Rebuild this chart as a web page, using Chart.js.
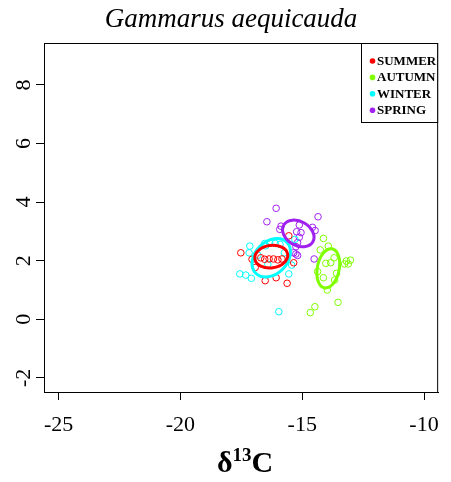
<!DOCTYPE html>
<html>
<head>
<meta charset="utf-8">
<script src="https://cdn.jsdelivr.net/npm/chart.js@4.4.0/dist/chart.umd.min.js"></script>
<style>
html, body { margin: 0; padding: 0; background: #fff; }
</style>
</head>
<body>
<canvas id="isoCanvas" width="451" height="482"></canvas>
<script>
// seasons and colours
const seasons = ['SUMMER', 'AUTUMN', 'WINTER', 'SPRING'];
const seasonColors = ['#FF0000', '#7FFF00', '#00FFFF', '#A020F0'];

// d13C (x) and d15N (y) values
const summerX = [-17.52, -17.06, -16.93, -16.54, -16.36, -16.18, -16.00, -15.83, -15.55, -15.35, -16.52, -16.07, -15.62, -16.70];
const summerY = [2.27, 2.05, 1.77, 2.05, 2.06, 2.06, 2.03, 2.06, 2.85, 1.93, 1.32, 1.42, 1.23, 2.10];

const autumnX = [-14.13, -13.93, -14.26, -13.69, -14.03, -13.83, -13.19, -13.02, -13.11, -13.26, -14.37, -14.13, -13.59, -13.67, -13.97, -13.53, -14.48, -14.67];
const autumnY = [2.76, 2.50, 2.37, 2.10, 1.91, 1.93, 1.99, 2.02, 1.89, 1.89, 1.63, 1.42, 1.57, 1.34, 1.00, 0.58, 0.43, 0.23];

const winterX = [-17.15, -17.18, -17.56, -17.32, -17.09, -16.41, -15.55, -15.43, -15.30, -15.96, -16.54, -16.34, -16.11, -15.91, -15.73, -16.82, -16.50];
const winterY = [2.50, 2.27, 1.55, 1.51, 1.40, 1.88, 1.55, 1.85, 2.73, 0.26, 2.59, 2.61, 2.59, 2.56, 2.27, 2.19, 2.51];

const springX = [-16.07, -16.45, -15.87, -15.92, -14.35, -14.58, -14.47, -15.12, -15.23, -15.05, -15.12, -15.19, -15.26, -15.35, -15.19, -14.51, -15.26];
const springY = [3.79, 3.33, 3.18, 3.07, 3.50, 3.14, 3.03, 3.22, 2.99, 2.96, 2.80, 2.62, 2.48, 2.27, 2.18, 2.06, 2.23];

// standard ellipses: centre, semi axes (data units), tilt (degrees)
const ellipseCX = [-16.27, -13.93, -16.27, -15.16];
const ellipseCY = [2.14, 1.74, 2.10, 2.93];
const ellipseRX = [0.68, 0.45, 0.90, 0.69];
const ellipseRY = [0.38, 0.68, 0.55, 0.41];
const ellipseTilt = [-8, 11, -45, 30];

const xTicks = [-25, -20, -15, -10];
const yTicks = [-2, 0, 2, 4, 6, 8];

const seriesX = [summerX, autumnX, winterX, springX];
const seriesY = [summerY, autumnY, winterY, springY];

function toPoints(xs, ys) {
    let pts = [];
    for (let i = 0; i < xs.length; i++) {
        pts.push({ x: xs[i], y: ys[i] });
    }
    return pts;
}

let datasets = [];
for (let s = 0; s < seasons.length; s++) {
    datasets.push({
        label: seasons[s],
        data: toPoints(seriesX[s], seriesY[s]),
        borderColor: seasonColors[s],
        backgroundColor: 'rgba(0,0,0,0)',
        pointRadius: 3.3,
        borderWidth: 1,
        order: s
    });
}

const serif = "'Liberation Serif', 'Times New Roman', serif";

const extrasPlugin = {
    id: 'extras',
    afterDatasetsDraw(chart) {
        const ctx = chart.ctx;
        const xs = chart.scales.x;
        const ys = chart.scales.y;
        const area = chart.chartArea;
        const pxPerX = Math.abs(xs.getPixelForValue(1) - xs.getPixelForValue(0));
        const pxPerY = Math.abs(ys.getPixelForValue(1) - ys.getPixelForValue(0));

        // ellipses (winter first so summer sits over it)
        const drawOrder = [2, 0, 1, 3];
        ctx.save();
        ctx.lineWidth = 3;
        for (let k of drawOrder) {
            ctx.beginPath();
            ctx.strokeStyle = seasonColors[k];
            ctx.ellipse(xs.getPixelForValue(ellipseCX[k]), ys.getPixelForValue(ellipseCY[k]),
                ellipseRX[k] * pxPerX, ellipseRY[k] * pxPerY, ellipseTilt[k] * Math.PI / 180, 0, 2 * Math.PI);
            ctx.stroke();
        }
        ctx.restore();

        // box
        ctx.save();
        ctx.strokeStyle = '#000';
        ctx.lineWidth = 1;
        ctx.strokeRect(area.left + 0.5, area.top + 0.5, area.right - area.left - 1, area.bottom - area.top);

        // legend
        const lx = 361.5, ly = area.top + 0.5;
        ctx.fillStyle = '#fff';
        ctx.fillRect(lx, ly, area.right - 0.5 - lx, 79);
        ctx.strokeRect(lx, ly, area.right - 0.5 - lx, 79);
        ctx.font = 'bold 13px ' + serif;
        ctx.textBaseline = 'middle';
        ctx.textAlign = 'left';
        for (let s = 0; s < seasons.length; s++) {
            let rowY = 61 + s * 16.4;
            ctx.beginPath();
            ctx.fillStyle = seasonColors[s];
            ctx.arc(372.5, rowY, 2.8, 0, 2 * Math.PI);
            ctx.fill();
            ctx.fillStyle = '#000';
            ctx.fillText(seasons[s], 377, rowY + 0.5);
        }

        // y tick labels, parallel to the axis
        ctx.font = '22px ' + serif;
        ctx.textAlign = 'center';
        ctx.textBaseline = 'middle';
        for (let t of ys.ticks) {
            ctx.save();
            ctx.translate(24, ys.getPixelForValue(t.value));
            ctx.rotate(-Math.PI / 2);
            ctx.fillText(String(t.value), 0, 0);
            ctx.restore();
        }

        // title
        ctx.font = 'italic 27px ' + serif;
        ctx.fillText('Gammarus aequicauda', 231, 20);

        // x axis title: delta 13 C
        ctx.textAlign = 'left';
        ctx.textBaseline = 'alphabetic';
        const big = 'bold 30px ' + serif;
        const small = 'bold 19px ' + serif;
        ctx.font = big;
        const wD = ctx.measureText('\u03B4').width;
        const wC = ctx.measureText('C').width;
        ctx.font = small;
        const w13 = ctx.measureText('13').width;
        let start = 245 - (wD + w13 + wC) / 2;
        const base = 472;
        ctx.font = big;
        ctx.fillText('\u03B4', start, base);
        ctx.font = small;
        ctx.fillText('13', start + wD, base - 11);
        ctx.font = big;
        ctx.fillText('C', start + wD + w13, base);
        ctx.restore();
    }
};

let isoChart = new Chart(document.getElementById('isoCanvas').getContext('2d'), {
    type: 'scatter',
    data: { datasets: datasets },
    options: {
        responsive: false,
        animation: false,
        events: [],
        layout: { padding: { top: 43, right: 9, left: 0, bottom: 0 } },
        plugins: {
            legend: { display: false },
            title: { display: false },
            tooltip: { enabled: false }
        },
        scales: {
            x: {
                type: 'linear',
                min: -25.6,
                max: -9.42,
                afterBuildTicks: function (scale) { scale.ticks = xTicks.map(v => ({ value: v })); },
                afterFit: function (scale) { scale.height = 90; },
                grid: { drawOnChartArea: false, drawTicks: true, tickLength: 8, color: '#000', tickColor: '#000' },
                border: { display: true, color: '#000' },
                ticks: { font: { family: serif, size: 22 }, color: '#000', padding: 12, maxRotation: 0, autoSkip: false }
            },
            y: {
                type: 'linear',
                min: -2.48,
                max: 9.43,
                afterBuildTicks: function (scale) { scale.ticks = yTicks.map(v => ({ value: v })); },
                afterFit: function (scale) { scale.width = 44; },
                grid: { drawOnChartArea: false, drawTicks: true, tickLength: 8, color: '#000', tickColor: '#000' },
                border: { display: true, color: '#000' },
                ticks: { display: false }
            }
        }
    },
    plugins: [extrasPlugin]
});
</script>
</body>
</html>
